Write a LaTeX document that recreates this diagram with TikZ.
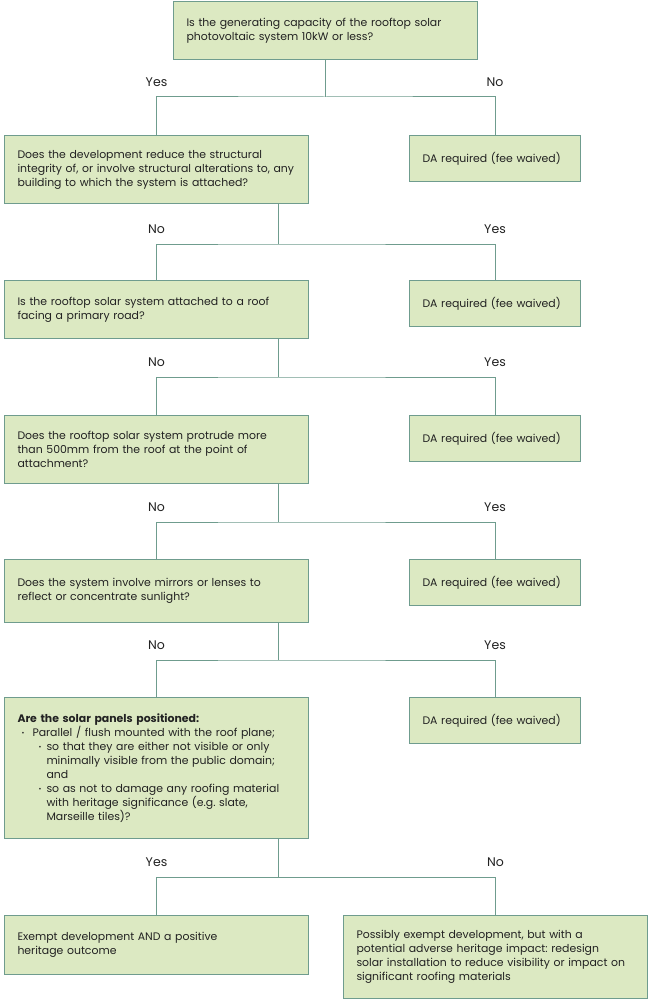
\documentclass[tikz,border=0pt]{standalone}
\usepackage{fontspec}
\setmainfont{Poppins}
\usepackage{tikz}
\usepackage{xcolor}
\frenchspacing

\definecolor{boxfill}{HTML}{DCE9C2}
\definecolor{boxline}{HTML}{6F9C8E}
\definecolor{txt}{HTML}{222222}

\newcommand{\bul}[2]{\hspace*{#1}\makebox[#2][l]{\raisebox{0.5pt}{\fontsize{7}{7}\selectfont\textbullet}}}

\tikzset{
  qbox/.style={draw=boxline, fill=boxfill, line width=1pt, anchor=north west,
    align=left, text width=278pt, inner xsep=13pt, minimum height=#1,
    font=\fontsize{10.9}{14}\selectfont, text=txt},
  qbox/.default=46pt,
  dabox/.style={qbox=46pt, text width=145pt},
  conn/.style={draw=boxline, line width=1pt},
  lbl/.style={font=\fontsize{12.5}{14}\selectfont, text=txt},
}

\begin{document}
\begin{tikzpicture}[x=1pt, y=-1pt]
\path[fill=white, use as bounding box] (0,0) rectangle (650,1000);

% questions
\node[qbox=58pt] (q1) at (173,1) {Is the generating capacity of the rooftop solar\\photovoltaic system 10kW or less?};
\node[qbox=68pt] (q2) at (4,135) {Does the development reduce the structural\\integrity of, or involve structural alterations to, any\\building to which the system is attached?};
\node[qbox=58pt] (q3) at (4,280) {Is the rooftop solar system attached to a roof\\facing a primary road?};
\node[qbox=68pt] (q4) at (4,415) {Does the rooftop solar system protrude more\\than 500mm from the roof at the point of\\attachment?};
\node[qbox=63pt] (q5) at (4,559) {Does the system involve mirrors or lenses to\\reflect or concentrate sunlight?};
\node[qbox=141pt] (q6) at (4,697) {\textbf{Are the solar panels positioned:}\\
  \bul{4pt}{11pt}Parallel / flush mounted with the roof plane;\\
  \bul{21pt}{8pt}so that they are either not visible or only\\
  \hspace*{29pt}minimally visible from the public domain;\\
  \hspace*{29pt}and\\
  \bul{21pt}{8pt}so as not to damage any roofing material\\
  \hspace*{29pt}with heritage significance (e.g. slate,\\
  \hspace*{29pt}Marseille tiles)?};

% DA required
\foreach \n/\y in {1/135, 2/280, 3/415, 4/559, 5/697}
  \node[dabox] (da\n) at (409,\y) {DA required (fee waived)};

% outcomes
\node[qbox=59pt] (ex1) at (4,915) {Exempt development AND a positive\\heritage outcome};
\node[qbox=83pt] (ex2) at (343,915) {Possibly exempt development, but with a\\potential adverse heritage impact: redesign\\solar installation to reduce visibility or impact on\\significant roofing materials};

% branches
\foreach \p/\dx/\l/\r/\ta/\tb/\jy in {q1/325/q2/da1/Yes/No/97, q2/278/q3/da2/No/Yes/244,
    q3/278/q4/da3/No/Yes/377, q4/278/q5/da4/No/Yes/522, q5/278/q6/da5/No/Yes/660,
    q6/278/ex1/ex2/Yes/No/877}{
  \coordinate (j) at (\dx,\jy);
  \draw[conn] (\p.south -| j) -- (j);
  \draw[conn] (\l.north) |- (j) -| (\r.north);
  \node[lbl] at ([yshift=15pt]\l.north |- j) {\ta};
  \node[lbl] at ([yshift=15pt]\r.north |- j) {\tb};
}
\end{tikzpicture}
\end{document}
